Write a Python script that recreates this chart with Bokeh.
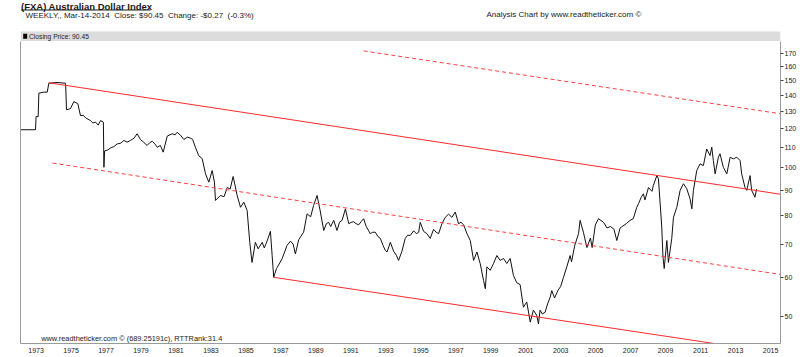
from bokeh.plotting import figure
from bokeh.models import (Range1d, FixedTicker, LinearAxis, Label, BoxAnnotation,
                          NumeralTickFormatter, ColumnDataSource)
from bokeh.layouts import column
from bokeh.embed import file_html
from bokeh.resources import INLINE

# ---------------- data ----------------
years = [1972.11, 1972.97, 1973.00, 1973.12, 1973.16, 1973.45, 1973.64, 1973.73, 1974.20, 1974.69,
         1974.74, 1974.97, 1975.16, 1975.39, 1975.54, 1975.70, 1975.83, 1976.11, 1976.25, 1976.40,
         1976.55, 1976.69, 1976.85, 1976.88, 1976.92, 1977.10, 1977.26, 1977.45, 1977.64, 1977.85,
         1978.02, 1978.20, 1978.40, 1978.60, 1978.78, 1978.97, 1979.15, 1979.35, 1979.50, 1979.64,
         1979.80, 1979.93, 1980.11, 1980.27, 1980.50, 1980.78, 1980.95, 1981.07, 1981.26, 1981.45,
         1981.65, 1981.83, 1981.95, 1982.11, 1982.30, 1982.50, 1982.69, 1982.88, 1983.07, 1983.20,
         1983.26, 1983.54, 1983.75, 1983.93, 1984.10, 1984.27, 1984.50, 1984.69, 1984.88, 1985.07,
         1985.22, 1985.35, 1985.54, 1985.70, 1985.93, 1986.05, 1986.21, 1986.40, 1986.50, 1986.59,
         1986.75, 1987.07, 1987.35, 1987.55, 1987.70, 1987.83, 1988.02, 1988.30, 1988.50, 1988.70,
         1988.87, 1989.07, 1989.26, 1989.45, 1989.60, 1989.73, 1989.85, 1990.02, 1990.21, 1990.35,
         1990.50, 1990.69, 1990.88, 1991.02, 1991.16, 1991.30, 1991.45, 1991.60, 1991.73, 1991.88,
         1992.02, 1992.11, 1992.25, 1992.40, 1992.55, 1992.69, 1992.85, 1992.97, 1993.07, 1993.26,
         1993.45, 1993.60, 1993.73, 1993.92, 1994.11, 1994.25, 1994.40, 1994.59, 1994.75, 1994.88,
         1994.97, 1995.16, 1995.35, 1995.54, 1995.73, 1995.88, 1996.02, 1996.21, 1996.40, 1996.59,
         1996.78, 1996.97, 1997.16, 1997.30, 1997.45, 1997.64, 1997.83, 1998.02, 1998.21, 1998.40,
         1998.59, 1998.69, 1998.78, 1998.97, 1999.16, 1999.35, 1999.54, 1999.73, 1999.92, 2000.11,
         2000.30, 2000.49, 2000.68, 2000.87, 2001.06, 2001.26, 2001.44, 2001.63, 2001.73, 2001.82,
         2001.95, 2002.11, 2002.25, 2002.40, 2002.49, 2002.65, 2002.85, 2003.00, 2003.16, 2003.35,
         2003.54, 2003.62, 2003.80, 2004.02, 2004.11, 2004.30, 2004.50, 2004.70, 2004.80, 2004.98,
         2005.16, 2005.45, 2005.65, 2005.85, 2006.05, 2006.21, 2006.40, 2006.75, 2006.97, 2007.15,
         2007.35, 2007.45, 2007.60, 2007.73, 2007.82, 2008.02, 2008.22, 2008.30, 2008.50, 2008.59,
         2008.78, 2008.85, 2008.92, 2009.07, 2009.16, 2009.35, 2009.45, 2009.64, 2009.83, 2010.02,
         2010.21, 2010.40, 2010.50, 2010.59, 2010.78, 2010.97, 2011.16, 2011.35, 2011.54, 2011.64,
         2011.73, 2011.83, 2012.02, 2012.11, 2012.30, 2012.50, 2012.69, 2012.87, 2013.07, 2013.26,
         2013.35, 2013.54, 2013.64, 2013.83, 2013.92, 2014.11, 2014.20]

close = [119.2, 119.2, 126.7, 126.7, 141.3, 142.0, 142.0, 148.0, 148.5, 148.0,
         130.8, 131.5, 135.9, 134.5, 127.3, 127.5, 126.0, 124.4, 123.0, 123.5,
         121.8, 124.4, 123.5, 100.1, 108.0, 108.5, 109.5, 110.2, 111.6, 112.0,
         113.4, 112.5, 113.4, 114.6, 117.0, 113.9, 112.5, 110.8, 112.2, 113.0,
         111.5, 109.9, 110.8, 107.4, 115.7, 117.0, 116.4, 117.8, 116.2, 113.9,
         115.2, 114.6, 114.0, 109.9, 105.7, 104.2, 97.1, 93.4, 98.6, 93.4,
         85.8, 87.8, 87.3, 91.1, 90.5, 95.9, 87.8, 83.1, 85.1, 81.9,
         70.6, 64.3, 70.6, 68.5, 70.6, 68.8, 71.0, 74.3, 66.4, 60.0,
         62.5, 65.4, 69.6, 71.0, 70.0, 66.9, 71.5, 74.0, 80.6, 79.5,
         83.8, 87.8, 81.3, 74.6, 77.0, 77.5, 76.0, 78.2, 74.6, 77.5,
         78.2, 82.5, 77.0, 77.5, 77.7, 77.0, 76.6, 77.8, 78.8, 76.0,
         74.5, 73.5, 74.0, 74.0, 72.5, 71.9, 69.5, 68.0, 67.5, 70.6,
         67.7, 66.5, 64.9, 67.7, 71.9, 73.0, 72.9, 74.5, 73.5, 74.0,
         77.5, 74.3, 73.5, 71.9, 75.0, 74.0, 73.5, 77.0, 79.3, 80.5,
         79.3, 81.3, 77.0, 77.5, 76.6, 73.5, 71.2, 64.9, 67.5, 63.9,
         59.1, 56.9, 63.0, 62.0, 64.0, 66.4, 64.9, 65.5, 64.0, 65.5,
         60.5, 58.5, 58.0, 52.2, 53.5, 48.7, 51.5, 50.3, 48.3, 51.5,
         50.6, 51.0, 53.0, 54.7, 56.4, 54.5, 56.5, 57.5, 60.0, 63.0,
         66.4, 64.5, 69.5, 73.5, 78.2, 74.0, 68.9, 72.0, 68.9, 76.5,
         78.8, 77.5, 75.5, 76.0, 75.0, 71.2, 75.5, 77.0, 78.2, 78.8,
         83.1, 84.5, 87.0, 88.5, 86.0, 91.1, 89.5, 92.0, 96.3, 94.9,
         75.8, 65.9, 62.5, 71.2, 64.3, 71.8, 79.3, 83.1, 89.9, 92.7,
         90.6, 86.4, 82.5, 89.9, 98.6, 101.7, 100.9, 109.0, 105.7, 109.9,
         103.3, 97.1, 104.9, 106.6, 100.1, 97.1, 104.9, 104.1, 104.9, 103.3,
         97.1, 91.1, 89.9, 96.3, 89.9, 87.1, 90.45]

# channel lines (endpoints)
upper_years = [1973.73, 2015.57]
upper_vals = [148.3, 88.3]
mid_years = [1973.94, 2015.57]
mid_vals = [102.1, 60.8]
top_years = [1991.73, 2015.57]
top_vals = [172.0, 128.4]
low_years = [1986.59, 2015.57]
low_vals = [60.0, 42.1]

year_ticks = list(range(1973, 2016, 2))
price_ticks = [50, 60, 70, 80, 90, 100, 110, 120, 130, 140, 150, 160, 170]

FONT = "Liberation Sans"
W = 800
HH = 41          # header height
HM = 316         # main chart height
BL, BR = 20, 20  # left / right borders shared by both figures

# ---------------- header (data units == pixels) ----------------
h = figure(width=W, height=HH, x_range=Range1d(BL, W - BR), y_range=Range1d(HH, 0),
           x_axis_type=None, y_axis_type=None, output_backend="svg",
           toolbar_location=None, min_border_left=BL, min_border_right=BR,
           min_border_top=0, min_border_bottom=0, outline_line_color=None)
h.grid.visible = False
h.add_layout(Label(x=20.5, y=0, text="(FXA) Australian Dollar Index", text_font=FONT,
                   text_font_style="bold", text_font_size="9.5px", text_baseline="top",
                   text_color="#1a1a1a"))
h.segment(x0=[20.5], x1=[150], y0=[9.5], y1=[9.5], line_color="#1a1a1a", line_width=1)
h.add_layout(Label(x=25, y=14.5,
                   text="WEEKLY,, Mar-14-2014 \u00a0Close: $90.45 \u00a0Change: -$0.27 \u00a0(-0.3%)",
                   text_font=FONT, text_font_size="8px", text_baseline="middle",
                   text_color="#222222"))
h.add_layout(Label(x=486, y=14, text="Analysis Chart by www.readtheticker.com \u00a9",
                   text_font=FONT, text_font_size="8px", text_baseline="middle",
                   text_color="#222222"))
h.add_layout(BoxAnnotation(left=20, right=780, top=31, bottom=41, fill_color="#dcdcdc",
                           fill_alpha=1, line_color=None))
h.add_layout(BoxAnnotation(left=22.7, right=26.7, top=33.3, bottom=38.3, fill_color="black",
                           fill_alpha=1, line_color=None))
h.add_layout(Label(x=28.5, y=36, text="Closing Price: 90.45", text_font=FONT,
                   text_font_size="6.7px", text_baseline="middle", text_color="#222222"))

# ---------------- main chart ----------------
p = figure(width=W, height=HM, x_range=Range1d(1972.11, 2015.57),
           y_range=Range1d(44.1, 179.7), y_axis_type="log", y_axis_location="right",
           output_backend="svg", toolbar_location=None,
           min_border_left=BL, min_border_right=BR, min_border_top=0, min_border_bottom=14)
p.grid.visible = False
p.outline_line_color = None
p.background_fill_color = "white"

src = ColumnDataSource(dict(year=years, close=close))
p.line("year", "close", source=src, line_color="#111111", line_width=1)

p.line(upper_years, upper_vals, line_color="#ff2a2a", line_width=1)
p.line(low_years, low_vals, line_color="#ff2a2a", line_width=1)
p.line(mid_years, mid_vals, line_color="#ff4040", line_width=1, line_dash="4 3")
p.line(top_years, top_vals, line_color="#ff4040", line_width=1, line_dash="4 3")

p.add_layout(Label(x=1973.29, y=45.1, text="www.readtheticker.com \u00a9 (689.25191c), RTTRank:31.4",
                   text_font=FONT, text_font_size="7.4px", text_baseline="middle",
                   text_color="#222222"))

# x axis
xa = p.xaxis[0]
xa.ticker = FixedTicker(ticks=year_ticks)
xa.formatter = NumeralTickFormatter(format="0")
xa.axis_line_color = "#9a9a9a"
xa.major_tick_out = 0
xa.major_tick_in = 0
xa.minor_tick_out = 0
xa.minor_tick_in = 0
xa.major_label_standoff = 4
xa.major_label_text_font = "'Liberation Sans Narrow', 'Liberation Sans'"
xa.major_label_text_font_size = "7px"
xa.major_label_text_color = "#222222"

# right y axis
ya = p.yaxis[0]
ya.ticker = FixedTicker(ticks=price_ticks)
ya.formatter = NumeralTickFormatter(format="0")
ya.axis_line_color = "#9a9a9a"
ya.major_tick_out = 3
ya.major_tick_in = 0
ya.minor_tick_out = 0
ya.minor_tick_in = 0
ya.major_tick_line_color = "#444444"
ya.major_label_standoff = 1
ya.major_label_text_font = FONT
ya.major_label_text_font_size = "7px"
ya.major_label_text_color = "#222222"

# left border line
la = LinearAxis(ticker=FixedTicker(ticks=[]), axis_line_color="#9a9a9a",
                major_tick_out=0, major_tick_in=0, minor_tick_out=0, minor_tick_in=0,
                major_label_text_font_size="0px")
p.add_layout(la, "left")

layout = column(h, p, spacing=0)
open("out.html", "w").write(file_html(layout, INLINE))
